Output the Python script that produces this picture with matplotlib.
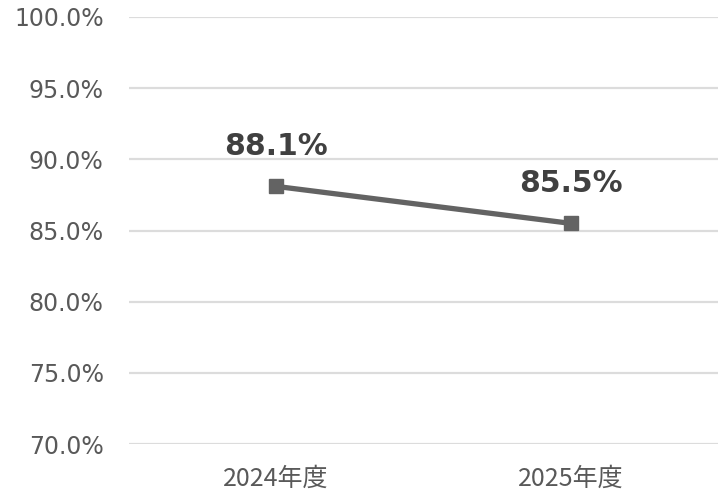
import matplotlib.pyplot as plt
from matplotlib.ticker import FuncFormatter, MultipleLocator

plt.rcParams['font.family'] = ['DejaVu Sans', 'Noto Sans CJK JP']

years = ['2024年度', '2025年度']
rates = [88.1, 85.5]

fig = plt.figure(figsize=(7.19, 4.97), dpi=100)
ax = fig.add_axes([0.179, 0.1066, 0.82, 0.8592])

x = range(len(years))
ax.plot(x, rates, color='#636363', linewidth=3.8, marker='s', markersize=10,
        solid_capstyle='butt', zorder=3)

# 数値ラベル
for i, v in zip(x, rates):
    ax.annotate(f'{v:.1f}%', (i, v), xytext=(0, 29), textcoords='offset points',
                ha='center', va='center', fontsize=21.5, fontweight='bold',
                color='#404040')

ax.set_xlim(-0.5, 1.5)
ax.set_ylim(70, 100)
ax.yaxis.set_major_locator(MultipleLocator(5))
ax.yaxis.set_major_formatter(FuncFormatter(lambda v, p: f'{v:.1f}%'))
ax.set_xticks(list(x))
ax.set_xticklabels(years, family=['Noto Sans CJK JP'], fontsize=18)

ax.grid(axis='y', color='#dcdcdc', linewidth=1.6)
ax.set_axisbelow(True)
for s in ax.spines.values():
    s.set_visible(False)
ax.tick_params(axis='both', length=0, labelcolor='#595959')
ax.tick_params(axis='y', pad=18, labelsize=17)
ax.tick_params(axis='x', pad=16)

fig.savefig('out.png', dpi=100)
